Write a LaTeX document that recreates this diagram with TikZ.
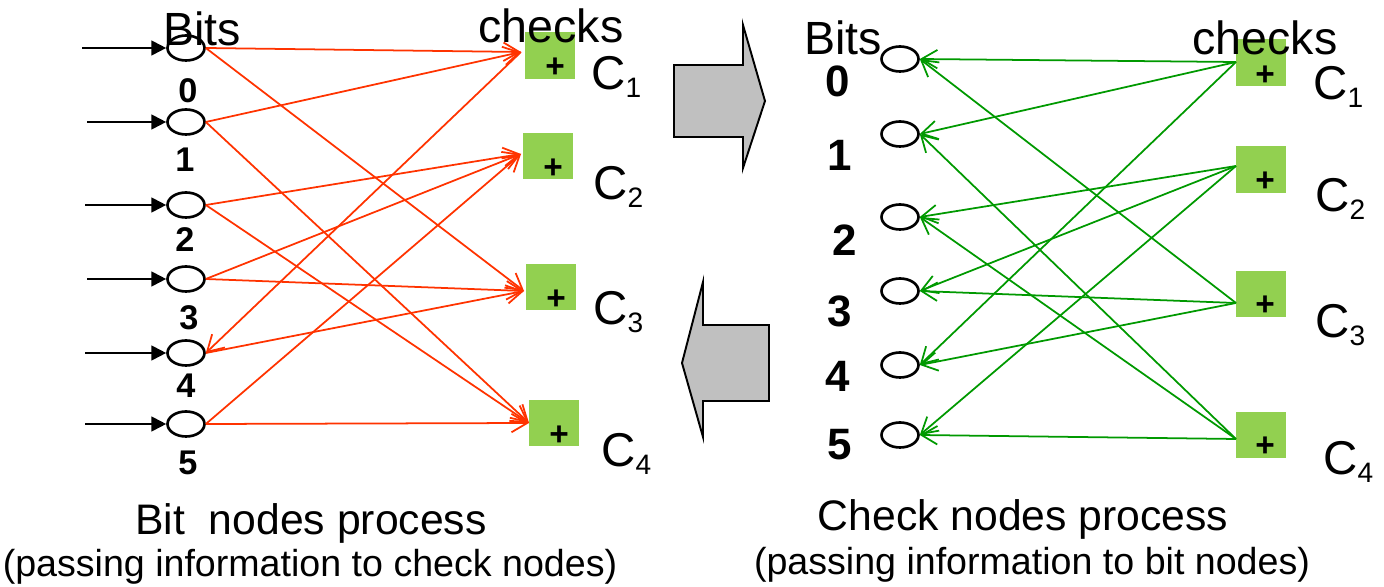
\documentclass[tikz,border=0pt]{standalone}
\usepackage{fontspec}
\setmainfont{Liberation Sans}
\usetikzlibrary{arrows.meta,shapes.geometric}
\definecolor{msg}{RGB}{255,51,0}
\definecolor{ret}{RGB}{0,153,0}
\definecolor{chk}{RGB}{146,208,80}
\definecolor{pane}{RGB}{192,192,192}
\newcommand{\cname}[1]{C\raisebox{-4.5pt}{\fontsize{16}{16}\selectfont #1}}

\begin{document}
\begin{tikzpicture}[x=0.02cm,y=-0.02cm,
  bit/.style={ellipse,draw,line width=1.5pt,
              minimum width=0.74cm,minimum height=0.5cm,inner sep=0pt},
  sq/.style={fill=chk,minimum width=1cm,minimum height=0.94cm,inner sep=0pt},
  pl/.style={font=\fontsize{19}{19}\selectfont\bfseries,inner sep=0pt},
  ttl/.style={font=\fontsize{26.5}{30}\selectfont,inner sep=0pt},
  num/.style={font=\fontsize{19.5}{20}\selectfont\bfseries,inner sep=0pt},
  bignum/.style={font=\fontsize{25}{25}\selectfont\bfseries,inner sep=0pt},
  cl/.style={font=\fontsize{27}{27}\selectfont,inner sep=0pt,anchor=base west},
  heading/.style={font=\fontsize{24.3}{28}\selectfont,inner sep=0pt,anchor=base},
  subhead/.style={font=\fontsize{21.4}{25}\selectfont,inner sep=0pt,anchor=base},
  feed/.style={line width=1.1pt,-{Triangle[length=8.5pt,width=8.5pt]}},
  fwd/.style={draw=msg,line width=1pt,-{Straight Barb[length=9pt,width=10.5pt]}},
  back/.style={draw=ret,line width=1pt,-{Straight Barb[length=9pt,width=10.5pt]}},
  big/.style={draw,fill=pane,line width=1.1pt,line join=miter}]
  \useasboundingbox (0,0) rectangle (1384,587);

  % bit nodes process
  \node[bit] (lb0) at (186,48)  {};
  \node[bit] (lb1) at (186,122) {};
  \node[bit] (lb2) at (186,205) {};
  \node[bit] (lb3) at (186,279) {};
  \node[bit] (lb4) at (186,353) {};
  \node[bit] (lb5) at (186,424) {};
  \node[sq] (lc1) at (550,55.5) {};
  \node[sq] (lc2) at (548,156)  {};
  \node[sq] (lc3) at (551,287)  {};
  \node[sq] (lc4) at (554,423)  {};
  \coordinate (lp1) at (521,52);
  \coordinate (lp2) at (521,154);
  \coordinate (lp3) at (524,291);
  \coordinate (lp4) at (529,423);
  \coordinate (in0) at (82,48);
  \coordinate (in1) at (87,122);
  \coordinate (in2) at (85,205);
  \coordinate (in3) at (87,279);
  \coordinate (in4) at (85,353);
  \coordinate (in5) at (85,424);
  \draw[feed] (in0) -- (lb0);
  \draw[feed] (in1) -- (lb1);
  \draw[feed] (in2) -- (lb2);
  \draw[feed] (in3) -- (lb3);
  \draw[feed] (in4) -- (lb4);
  \draw[feed] (in5) -- (lb5);
  \draw[fwd] (lb0.east) -- (lp1);
  \draw[fwd] (lb0.east) -- (lp3);
  \draw[fwd] (lb1.east) -- (lp1);
  \draw[fwd] (lb1.east) -- (lp4);
  \draw[fwd] (lb2.east) -- (lp2);
  \draw[fwd] (lb2.east) -- (lp4);
  \draw[fwd] (lb3.east) -- (lp2);
  \draw[fwd] (lb3.east) -- (lp3);
  \draw[fwd] (lp1) -- (lb4.east);
  \draw[fwd] (lb4.east) -- (lp3);
  \draw[fwd] (lb5.east) -- (lp2);
  \draw[fwd] (lb5.east) -- (lp4);
  \node[pl] (lx1) at (555,68)  {+};
  \node[pl] (lx2) at (553,169) {+};
  \node[pl] (lx3) at (556,300) {+};
  \node[pl] (lx4) at (559,436) {+};
  \node[ttl] (lbits) at (202,29) {Bits};
  \node[ttl] (lchecks) at (551,26) {checks};
  \node[num] (ln0) at (188,91)  {0};
  \node[num] (ln1) at (185,160) {1};
  \node[num] (ln2) at (185,240) {2};
  \node[num] (ln3) at (189,318) {3};
  \node[num] (ln4) at (186,386) {4};
  \node[num] (ln5) at (188,463) {5};
  \node[cl] (lcn1) at (591,90)  {\cname{1}};
  \node[cl] (lcn2) at (593,200) {\cname{2}};
  \node[cl] (lcn3) at (593,325) {\cname{3}};
  \node[cl] (lcn4) at (601,467) {\cname{4}};
  \node[heading] (ltitle) at (311,535) {Bit\ \ nodes process};
  \node[subhead] (lnote) at (310,577) {(passing information to check nodes)};

  % turn arrows
  \draw[big] (674,65) -- (743,65) -- (743,25) -- (765,101) -- (743,168)
    -- (743,137) -- (674,137) -- cycle;
  \draw[big] (769,325) -- (703,325) -- (703,282) -- (682,363) -- (703,437)
    -- (703,401) -- (769,401) -- cycle;

  % check nodes process
  \node[bit] (rb0) at (900,59)  {};
  \node[bit] (rb1) at (900,134) {};
  \node[bit] (rb2) at (900,217) {};
  \node[bit] (rb3) at (900,291) {};
  \node[bit] (rb4) at (900,365) {};
  \node[bit] (rb5) at (900,435) {};
  \node[sq] (rc1) at (1261,63)  {};
  \node[sq] (rc2) at (1261,169.5) {};
  \node[sq] (rc3) at (1261,294) {};
  \node[sq] (rc4) at (1261,435) {};
  \coordinate (rp1) at (1236,62);
  \coordinate (rp2) at (1236,166);
  \coordinate (rp3) at (1236,303);
  \coordinate (rp4) at (1236,439);
  \draw[back] (rp1) -- (rb0.east);
  \draw[back] (rp1) -- (rb1.east);
  \draw[back] (rp1) -- (rb4.east);
  \draw[back] (rp2) -- (rb2.east);
  \draw[back] (rp2) -- (rb3.east);
  \draw[back] (rp2) -- (rb5.east);
  \draw[back] (rp3) -- (rb0.east);
  \draw[back] (rp3) -- (rb3.east);
  \draw[back] (rp3) -- (rb4.east);
  \draw[back] (rp4) -- (rb1.east);
  \draw[back] (rp4) -- (rb2.east);
  \draw[back] (rp4) -- (rb5.east);
  \node[pl] (rx1) at (1265,76)  {+};
  \node[pl] (rx2) at (1265,182) {+};
  \node[pl] (rx3) at (1265,306) {+};
  \node[pl] (rx4) at (1265,447) {+};
  \node[ttl] (rbits) at (843,38) {Bits};
  \node[ttl] (rchecks) at (1265,38) {checks};
  \node[bignum] (rn0) at (838,81)  {0};
  \node[bignum] (rn1) at (840,155) {1};
  \node[bignum] (rn2) at (845,240) {2};
  \node[bignum] (rn3) at (840,311) {3};
  \node[bignum] (rn4) at (838,376) {4};
  \node[bignum] (rn5) at (840,445) {5};
  \node[cl] (rcn1) at (1313,100) {\cname{1}};
  \node[cl] (rcn2) at (1315,212) {\cname{2}};
  \node[cl] (rcn3) at (1315,338) {\cname{3}};
  \node[cl] (rcn4) at (1323,475) {\cname{4}};
  \node[heading] (rtitle) at (1023,531) {Check nodes process};
  \node[subhead] (rnote) at (1032,575) {(passing information to bit nodes)};
\end{tikzpicture}
\end{document}
